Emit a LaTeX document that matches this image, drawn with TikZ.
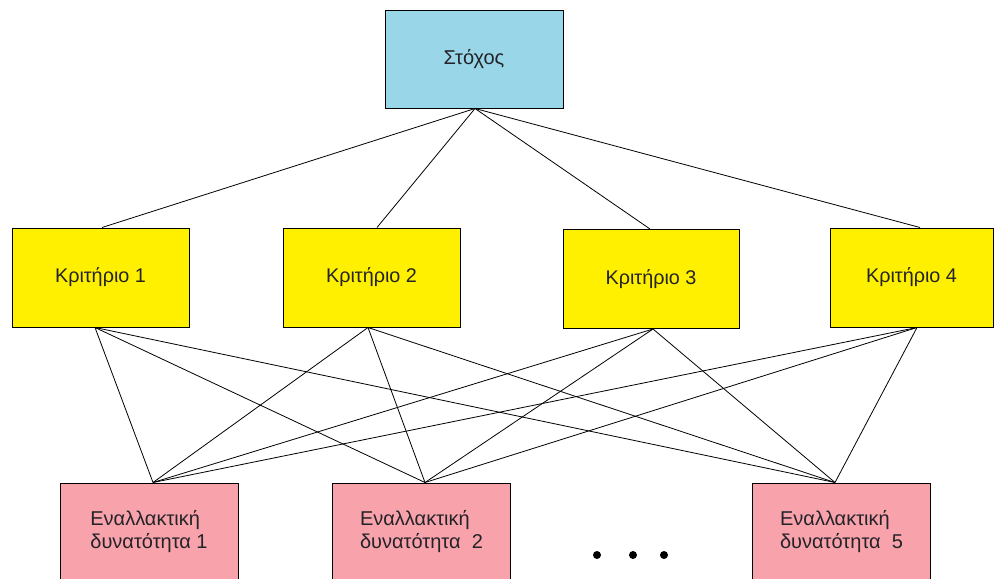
\documentclass[tikz,border=0pt]{standalone}
\usepackage{fontspec}
\setmainfont{Liberation Sans}
\definecolor{goalblue}{RGB}{153,214,232}
\definecolor{crityellow}{RGB}{255,240,0}
\definecolor{altpink}{RGB}{248,162,172}
\definecolor{txt}{RGB}{35,35,40}
\begin{document}
\begin{tikzpicture}[x=1pt,y=-1pt,
  boxbase/.style={draw=black,line width=1pt,inner sep=0pt,text=txt},
  goalbox/.style={boxbase,fill=goalblue,minimum width=178pt,minimum height=97pt,font=\fontsize{20}{23}\selectfont},
  critbox/.style={boxbase,fill=crityellow,minimum height=99pt,font=\fontsize{19.8}{23}\selectfont},
  altbox/.style={boxbase,fill=altpink,minimum width=178pt,minimum height=97pt,align=left,font=\fontsize{20}{23.5}\selectfont},
  link/.style={draw=black,line width=0.8pt},
  dotnode/.style={circle,fill=black,inner sep=0pt,minimum size=8pt}]
\useasboundingbox (0,0) rectangle (995,578);
\fill[white] (0,0) rectangle (995,578);
% nodes
\node[goalbox] (goal) at (474,59.5) {Στόχος};
\node[critbox,minimum width=177pt] (k1) at (100.5,277.5) {Κριτήριο 1};
\node[critbox,minimum width=177pt] (k2) at (371.5,277.5) {Κριτήριο 2};
\node[critbox,minimum width=176pt] (k3) at (651,279) {Κριτήριο 3};
\node[critbox,minimum width=163pt] (k4) at (911.5,277.5) {Κριτήριο 4};
\node[altbox] (a1) at (149,531.5) {Εναλλακτική\\δυνατότητα 1};
\node[altbox] (a2) at (421.5,531.5) {Εναλλακτική\\δυνατότητα\ \ 2};
\node[altbox] (a5) at (841.5,531.5) {Εναλλακτική\\δυνατότητα\ \ 5};
\node[dotnode] (d1) at (597,555) {};
\node[dotnode] (d2) at (633,555) {};
\node[dotnode] (d3) at (664,555) {};
% connection points
\coordinate (gb) at ([xshift=1pt]goal.south);
\coordinate (k1t) at ([xshift=1.5pt]k1.north);
\coordinate (k2t) at ([xshift=5.5pt]k2.north);
\coordinate (k3t) at ([xshift=-1pt]k3.north);
\coordinate (k4t) at ([xshift=8.5pt]k4.north);
\coordinate (k1b) at ([xshift=-5.5pt]k1.south);
\coordinate (k2b) at ([xshift=-3.5pt]k2.south);
\coordinate (k3b) at ([xshift=2pt]k3.south);
\coordinate (k4b) at ([xshift=5.5pt]k4.south);
\coordinate (a1t) at ([xshift=4pt]a1.north);
\coordinate (a2t) at ([xshift=3.5pt]a2.north);
\coordinate (a5t) at ([xshift=-6.5pt]a5.north);
% links
\foreach \k in {k1t,k2t,k3t,k4t} \draw[link] (gb) -- (\k);
\foreach \k in {k1b,k2b,k3b,k4b}
  \foreach \a in {a1t,a2t,a5t}
    \draw[link] (\k) -- (\a);
\end{tikzpicture}
\end{document}
